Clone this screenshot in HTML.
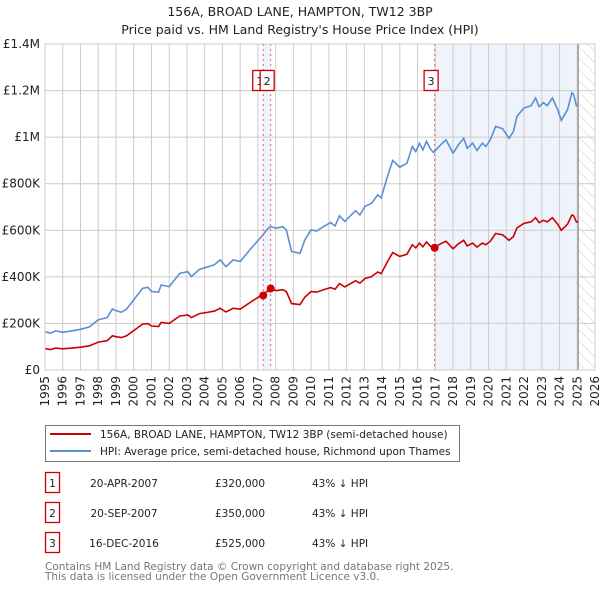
<!DOCTYPE html>
<html><head><meta charset="utf-8"><style>
body{margin:0;background:#fff;font-family:"DejaVu Sans","Liberation Sans",sans-serif;}
#wrap{position:relative;width:600px;height:590px;overflow:hidden;}
</style></head><body>
<div id="wrap">
<svg id="chart" width="600" height="590" xmlns="http://www.w3.org/2000/svg" font-family="DejaVu Sans, Liberation Sans, sans-serif">
<text x="300" y="16" text-anchor="middle" font-size="12.5" fill="#222">156A, BROAD LANE, HAMPTON, TW12 3BP</text>
<text x="300" y="34" text-anchor="middle" font-size="12.5" fill="#222">Price paid vs. HM Land Registry's House Price Index (HPI)</text>
<defs><pattern id="hatch" width="8" height="8" patternUnits="userSpaceOnUse" patternTransform="rotate(-45)"><line x1="0" y1="0" x2="0" y2="8" stroke="#ccc" stroke-width="1"/></pattern></defs>
<g id="grid"></g><g id="marks"></g>
<g>
<rect x="45.5" y="425.5" width="414" height="36" fill="#fff" stroke="#777"/>
<line x1="50" y1="434" x2="91" y2="434" stroke="#cc0000" stroke-width="2"/>
<text x="100" y="438" font-size="10.5" fill="#222">156A, BROAD LANE, HAMPTON, TW12 3BP (semi-detached house)</text>
<line x1="50" y1="451" x2="91" y2="451" stroke="#5b8fd4" stroke-width="2"/>
<text x="100" y="455" font-size="10.5" fill="#222">HPI: Average price, semi-detached house, Richmond upon Thames</text>
</g>
<g id="table" font-size="10.5" fill="#222"></g>
<text x="45" y="570" font-size="10.5" fill="#777">Contains HM Land Registry data © Crown copyright and database right 2025.</text>
<text x="45" y="580" font-size="10.5" fill="#777">This data is licensed under the Open Government Licence v3.0.</text>
</svg>
</div>
<script>
const times=[1995.0,1995.3,1995.6,1996.0,1996.5,1997.0,1997.5,1998.0,1998.5,1998.8,1999.0,1999.3,1999.6,2000.0,2000.5,2000.8,2001.0,2001.4,2001.55,2002.0,2002.6,2003.05,2003.25,2003.7,2004.1,2004.55,2004.87,2005.2,2005.6,2006.0,2006.7,2007.2,2007.5,2007.7,2008.05,2008.4,2008.6,2008.9,2009.37,2009.65,2010.0,2010.3,2010.7,2011.1,2011.35,2011.6,2011.9,2012.5,2012.75,2013.05,2013.4,2013.75,2013.95,2014.3,2014.6,2015.0,2015.4,2015.7,2015.9,2016.1,2016.3,2016.5,2016.7,2016.9,2017.3,2017.6,2018.0,2018.3,2018.6,2018.8,2019.1,2019.35,2019.65,2019.85,2020.1,2020.4,2020.8,2021.15,2021.4,2021.6,2022.0,2022.4,2022.65,2022.85,2023.1,2023.3,2023.6,2023.9,2024.1,2024.45,2024.7,2024.8,2024.95,2025.05];
const hpiValues=[165,158,168,162,168,175,185,215,225,262,255,248,262,301,351,355,337,334,365,358,415,422,401,432,441,452,473,444,473,466,530,573,602,616,609,616,602,509,501,559,602,597,616,633,619,662,638,684,666,704,716,752,740,830,900,871,888,960,938,974,945,982,952,934,967,988,931,967,995,952,974,942,974,960,988,1046,1036,995,1024,1089,1125,1135,1168,1131,1148,1135,1168,1118,1072,1118,1190,1183,1135,1135];
const priceValues=[92,88,94,91,94,98,104,120,126,147,143,139,147,169,197,199,189,187,204,200,232,236,225,242,247,253,265,249,265,261,297,321,337,345,341,345,337,285,281,313,337,334,345,354,347,371,357,383,373,394,401,421,414,465,504,488,497,538,525,545,529,550,533,523,542,553,521,542,557,533,545,528,545,538,553,586,580,557,573,610,630,636,654,633,643,636,654,626,600,626,666,662,636,636];
const saleLabels=["1","2","3"];
const saleTimes=[2007.3,2007.72,2016.96];
const salePrices=[320,350,525];
const saleDates=["20-APR-2007","20-SEP-2007","16-DEC-2016"];
const salePriceText=["£320,000","£350,000","£525,000"];
const saleHpiText=["43% ↓ HPI","43% ↓ HPI","43% ↓ HPI"];
const yTicks=[0,200,400,600,800,1000,1200,1400];
const yTickLabels=["£0","£200K","£400K","£600K","£800K","£1M","£1.2M","£1.4M"];
const xYears=[1995,1996,1997,1998,1999,2000,2001,2002,2003,2004,2005,2006,2007,2008,2009,2010,2011,2012,2013,2014,2015,2016,2017,2018,2019,2020,2021,2022,2023,2024,2025,2026];
const dataEnd=2025.05;

const NS="http://www.w3.org/2000/svg";
const L=45,R=595,T=44,B=370;
const x=t=>L+(t-1995)/(2026-1995)*(R-L);
const y=v=>B-v/1400*(B-T);
function mk(tag,attrs,parent){const e=document.createElementNS(NS,tag);for(const k in attrs)e.setAttribute(k,attrs[k]);parent.appendChild(e);return e;}
const grid=document.getElementById('grid'),marks=document.getElementById('marks'),table=document.getElementById('table');

let s=mk('rect',{x:x(saleTimes[0]),y:T,width:x(saleTimes[1])-x(saleTimes[0]),height:B-T,fill:'#eef3fc'},grid);


s=mk('rect',{x:x(saleTimes[2]),y:T,width:x(dataEnd)-x(saleTimes[2]),height:B-T,fill:'#eef3fc'},grid);


s=mk('rect',{x:x(dataEnd),y:T,width:R-x(dataEnd),height:B-T,fill:'url(#hatch)'},grid);



yTicks.forEach((v,i)=>{
  const l=mk('line',{x1:L,x2:R,y1:y(v),y2:y(v),stroke:'#ccc','stroke-width':1},grid);
  
  
  const t=mk('text',{x:L-5,y:y(v)+4,'text-anchor':'end','font-size':12,fill:'#222'},grid);
  t.textContent=yTickLabels[i];
  
  
});
xYears.forEach(yr=>{
  const l=mk('line',{x1:x(yr),x2:x(yr),y1:T,y2:B,stroke:'#ccc','stroke-width':1},grid);
  
  
  const t=mk('text',{x:0,y:0,'text-anchor':'end','font-size':12,fill:'#222',transform:`translate(${x(yr)+4},${B+6}) rotate(-90)`},grid);
  t.textContent=yr;
  
  
});
let el=mk('line',{x1:x(dataEnd),x2:x(dataEnd),y1:T,y2:B,stroke:'#888','stroke-width':1.2},grid);



function path(vals){return vals.map((v,i)=>(i?'L':'M')+x(times[i]).toFixed(1)+','+y(v).toFixed(1)).join('');}
el=mk('path',{d:path(hpiValues),fill:'none',stroke:'#5b8fd4','stroke-width':1.6},marks);


el=mk('path',{d:path(priceValues),fill:'none',stroke:'#cc0000','stroke-width':1.6},marks);



saleTimes.forEach((t,i)=>{
  const vl=mk('line',{x1:x(t),x2:x(t),y1:T,y2:B,stroke:'#e06070','stroke-width':1,'stroke-dasharray':'2,3'},marks);
  
  
  const c=mk('circle',{cx:x(t),cy:y(salePrices[i]),r:4,fill:'#cc0000'},marks);
  
  
  const b=mk('rect',{x:x(t)-10.5,y:70.5,width:14,height:20,fill:'#fff',stroke:'#cc0000','stroke-width':1.3},marks);
  
  
  const tx=mk('text',{x:x(t)-3.5,y:85,'text-anchor':'middle','font-size':11,fill:'#222'},marks);
  tx.textContent=saleLabels[i];
  
  
  const ry=483+i*30;
  const rb=mk('rect',{x:45.5,y:ry-10.5,width:14,height:20,fill:'#fff',stroke:'#cc0000','stroke-width':1.3},table);
  
  
  const cols=[[52.5,'middle',saleLabels[i]],[124,'middle',saleDates[i]],[240,'middle',salePriceText[i]],[312,'start',saleHpiText[i]]];
  cols.forEach(cc=>{
    const tt=mk('text',{x:cc[0],y:ry+4,'text-anchor':cc[1]},table);
    tt.textContent=cc[2];
    
    
  });
});
el=mk('rect',{x:L,y:T,width:R-L,height:B-T,fill:'none',stroke:'#ccc'},marks);


</script>
</body></html>
